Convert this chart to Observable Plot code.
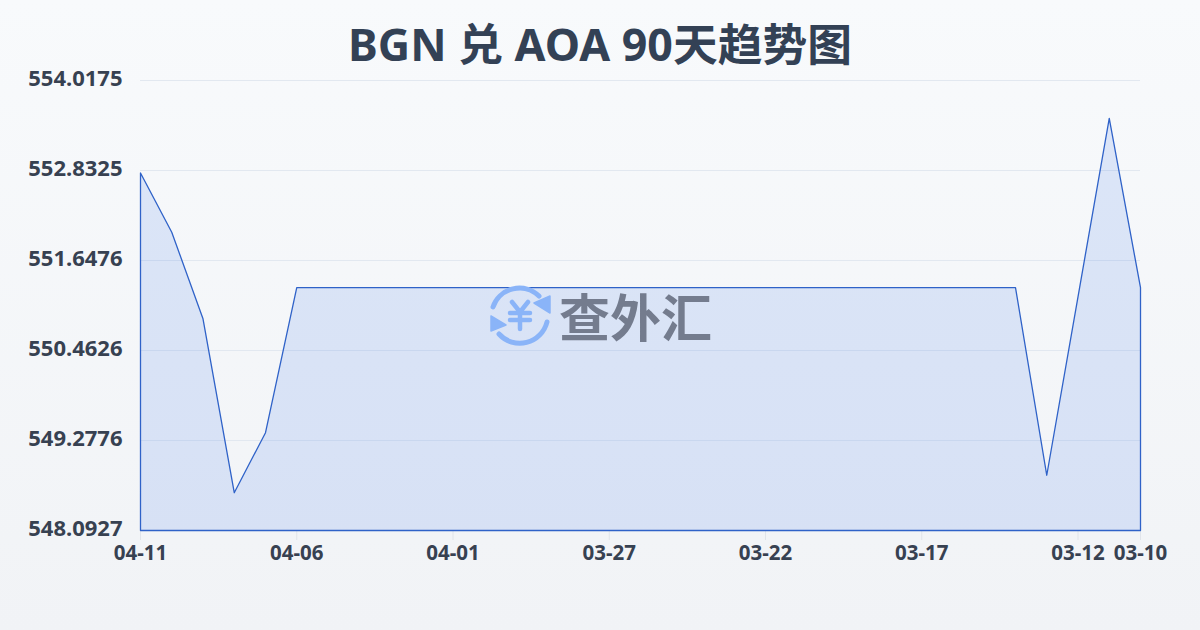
<!DOCTYPE html>
<html lang="zh">
<head>
<meta charset="utf-8">
<script src="https://cdn.jsdelivr.net/npm/d3@7"></script>
<script src="https://cdn.jsdelivr.net/npm/@observablehq/plot@0.6"></script>
<style>
html,body{margin:0;padding:0;width:1200px;height:630px;overflow:hidden}
body{background:linear-gradient(180deg,#f8fafc 0%,#f1f3f6 100%);font-family:"Noto Sans","Noto Sans CJK SC",sans-serif;position:relative}
h1{margin:0;height:60px;padding-top:14px;text-align:center;font-size:44.75px;line-height:60px;font-weight:700;color:#334155}
#chart{position:absolute;left:0;top:60px}
#chart svg{background:transparent;display:block;overflow:visible;font-family:"Noto Sans","Noto Sans CJK SC",sans-serif}
#wm{position:absolute;left:488px;top:284px;width:240px;height:64px;pointer-events:none}
#wm svg{position:absolute;left:0;top:0}
#wm span{position:absolute;left:71px;top:-4px;font-family:"Noto Sans CJK SC";font-size:51px;line-height:70px;font-weight:700;color:#747c8e;white-space:nowrap}
</style>
</head>
<body>
<h1>BGN 兑 AOA 90天趋势图</h1>
<div id="chart"></div>
<div id="wm">
<svg width="66" height="64" viewBox="0 0 66 64" fill="none" stroke="#8ab4f8" stroke-width="5" stroke-linecap="round" stroke-linejoin="round">
<path d="M5 23A28 28 0 0 1 51 12"/>
<path d="M59 38A28 28 0 0 1 11 50"/>
<path d="M62 12L62 29L46 19Z" fill="#8ab4f8" stroke-width="1.5"/>
<path d="M3 32L3 47L18 41Z" fill="#8ab4f8" stroke-width="1.5"/>
<path d="M24 18L32 28L40 18M22 29H42M22 36H42M32 28V45" stroke-width="4.5"/>
</svg>
<span>查外汇</span>
</div>
<script>
const dates = ["04-11","04-10","04-09","04-08","04-07","04-06","04-05","04-04","04-03","04-02","04-01",
  "03-31","03-30","03-29","03-28","03-27","03-26","03-25","03-24","03-23","03-22","03-21","03-20",
  "03-19","03-18","03-17","03-16","03-15","03-14","03-13","03-12","03-11","03-10"];
const rates = [552.80,552.02,550.88,548.59,549.38,551.29,551.29,551.29,551.29,551.29,551.29,
  551.29,551.29,551.29,551.29,551.29,551.29,551.29,551.29,551.29,551.29,551.29,551.29,
  551.29,551.29,551.29,551.29,551.29,551.29,548.82,551.17,553.52,551.29];
const xTicks = ["04-11","04-06","04-01","03-27","03-22","03-17","03-12","03-10"];
const yTicks = [548.0927,549.2776,550.4626,551.6476,552.8325,554.0175];
const rows = dates.map((d,i)=>({date:d,rate:rates[i]}));

const chart = Plot.plot({
  width:1200,height:530,
  marginLeft:140,marginRight:60,marginTop:20,marginBottom:60,
  style:{background:"transparent",overflow:"visible"},
  x:{type:"point",domain:dates,padding:0,round:false,label:null},
  y:{domain:[548.0927,554.0175],label:null},
  marks:[
    Plot.gridY(yTicks,{stroke:"#e2e8f0",strokeOpacity:1}),
    Plot.axisX({ticks:xTicks,tickSize:10,tickPadding:5,stroke:"#e0e4ea",strokeOpacity:1,
      fontSize:20.5,fontWeight:700,fill:"#374151",label:null,textAnchor:"middle"}),
    Plot.areaY(rows,{x:"date",y1:548.0927,y2:"rate",fill:"#2563eb",fillOpacity:0.13,stroke:"#2f62c8",strokeWidth:1.3,dx:0.5,dy:0.5}),
    Plot.axisY({ticks:yTicks,tickSize:0,tickPadding:18,tickFormat:d3.format(".4f"),
      fontSize:22,fontWeight:700,fill:"#374151",label:null,dy:-2})
  ]
});
document.getElementById("chart").appendChild(chart);
</script>
</body>
</html>
